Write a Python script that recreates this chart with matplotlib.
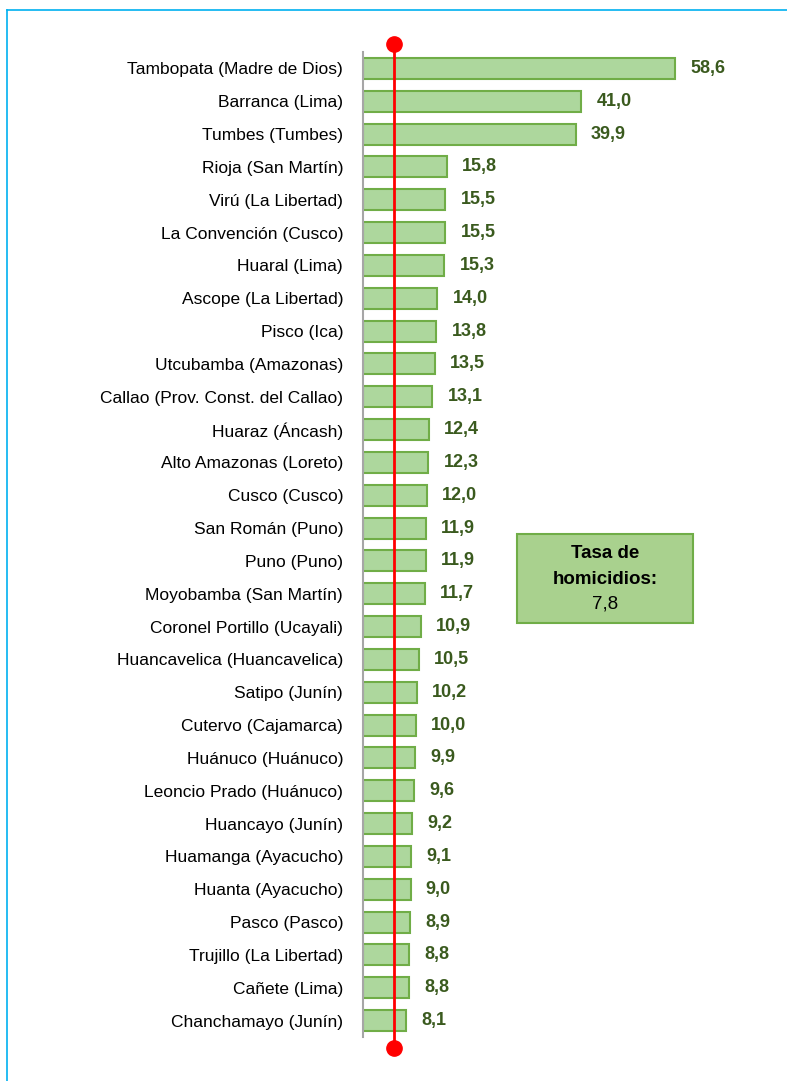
import matplotlib
matplotlib.use("Agg")
import matplotlib.pyplot as plt
import numpy as np
from matplotlib.patches import FancyBboxPatch
from matplotlib.lines import Line2D

provincias = [
    "Tambopata (Madre de Dios)", "Barranca (Lima)", "Tumbes (Tumbes)",
    "Rioja (San Martín)", "Virú (La Libertad)", "La Convención (Cusco)",
    "Huaral (Lima)", "Ascope (La Libertad)", "Pisco (Ica)",
    "Utcubamba (Amazonas)", "Callao (Prov. Const. del Callao)", "Huaraz (Áncash)",
    "Alto Amazonas (Loreto)", "Cusco (Cusco)", "San Román (Puno)",
    "Puno (Puno)", "Moyobamba (San Martín)", "Coronel Portillo (Ucayali)",
    "Huancavelica (Huancavelica)", "Satipo (Junín)", "Cutervo (Cajamarca)",
    "Huánuco (Huánuco)", "Leoncio Prado (Huánuco)", "Huancayo (Junín)",
    "Huamanga (Ayacucho)", "Huanta (Ayacucho)", "Pasco (Pasco)",
    "Trujillo (La Libertad)", "Cañete (Lima)", "Chanchamayo (Junín)",
]
tasas = [58.6, 41.0, 39.9, 15.8, 15.5, 15.5, 15.3, 14.0, 13.8, 13.5,
         13.1, 12.4, 12.3, 12.0, 11.9, 11.9, 11.7, 10.9, 10.5, 10.2,
         10.0, 9.9, 9.6, 9.2, 9.1, 9.0, 8.9, 8.8, 8.8, 8.1]
tasa_nacional = 7.8
linea_x = 5.9  # where the red line sits in the picture

fuente = ["Liberation Sans", "DejaVu Sans"]

fig = plt.figure(figsize=(7.87, 10.81), dpi=100)
ax = fig.add_axes([362.5 / 787, 1 - 1037 / 1081, 419 / 787, 985 / 1081])

y = np.arange(len(tasas))
ax.barh(y, tasas, height=0.64, color="#ADD79D", edgecolor="#70AD47", linewidth=1.5, zorder=2)

ax.set_xlim(0, 419 / 5.34)
ax.set_ylim(len(tasas) - 0.5, -0.5)
ax.set_yticks(y)
ax.set_yticklabels(provincias, fontsize=12.5, family=fuente, color="black")
ax.tick_params(axis="y", length=0, pad=14)
ax.set_xticks([])
for s in ["top", "right", "bottom"]:
    ax.spines[s].set_visible(False)
ax.spines["left"].set_color("#A6A6A6")
ax.spines["left"].set_linewidth(1.5)

for i, v in enumerate(tasas):
    ax.annotate(f"{v:.1f}".replace(".", ","), (v, i), xytext=(11, 0), textcoords="offset points",
                ha="left", va="center", fontsize=13, fontweight="bold",
                color="#3A5A1E", family=fuente)

# red reference line with dots
ax.plot([linea_x, linea_x], [-0.75, len(tasas) - 0.16], color="#FF0000", lw=2,
        zorder=3, clip_on=False)
ax.plot([linea_x, linea_x], [-0.75, len(tasas) - 0.16], "o", color="#FF0000",
        markersize=11, zorder=4, clip_on=False)

# box with national rate
caja = FancyBboxPatch((517 / 787, 1 - 623 / 1081), 176 / 787, 89 / 1081,
                      boxstyle="square,pad=0", transform=fig.transFigure,
                      facecolor="#A9D18E", edgecolor="#70AD47", linewidth=1.5)
fig.patches.append(caja)
fig.text(605 / 787, 1 - 554 / 1081, "Tasa de", ha="center", va="center",
         fontsize=13.5, fontweight="bold", family=fuente)
fig.text(605 / 787, 1 - 579 / 1081, "homicidios:", ha="center", va="center",
         fontsize=13.5, fontweight="bold", family=fuente)
fig.text(605 / 787, 1 - 604 / 1081, f"{tasa_nacional:.1f}".replace(".", ","),
         ha="center", va="center", fontsize=13.5, family=fuente)

# light blue frame on top and left
fig.add_artist(Line2D([7 / 787, 7 / 787], [0, 1 - 10 / 1081], color="#00B0F0", lw=1.2,
                      transform=fig.transFigure))
fig.add_artist(Line2D([7 / 787, 1], [1 - 10 / 1081, 1 - 10 / 1081], color="#00B0F0", lw=1.2,
                      transform=fig.transFigure))

fig.savefig("out.png", dpi=100)
